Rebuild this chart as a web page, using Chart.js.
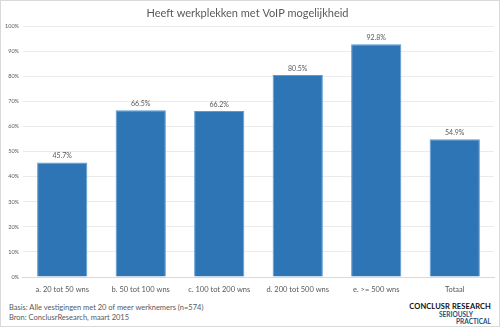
<!DOCTYPE html>
<html>
<head>
<meta charset="utf-8">
<script src="https://cdn.jsdelivr.net/npm/chart.js@4/dist/chart.umd.min.js"></script>
<style>
	html, body { margin: 0; padding: 0; background: #fff; }
	#wrap {
		position: relative;
		width: 500px;
		height: 327px;
		box-sizing: border-box;
		border: 1px solid #d9d9d9;
		font-family: 'Lato', 'DejaVu Sans', sans-serif;
	}
	#chart-box { position: absolute; left: 0; top: 0; width: 498px; height: 293px; }
	.note { position: absolute; left: 8px; font-size: 7.5px; color: #595959; }
	#logo { position: absolute; right: 8px; top: 302px; text-align: right; line-height: 7.5px; }
	#logo .name { font-size: 7.5px; font-weight: bold; color: #111; letter-spacing: 0.1px; }
	#logo .tag { font-size: 6.5px; font-weight: bold; color: #1f4e79; }
</style>
</head>
<body>
<div id="wrap">
	<div id="chart-box"><canvas id="chart"></canvas></div>
	<div class="note" style="top:302px">Basis: Alle vestigingen met 20 of meer werknemers (n=574)</div>
	<div class="note" style="top:312px">Bron: ConclusrResearch, maart 2015</div>
	<div id="logo">
		<div class="name">CONCLUSR RESEARCH</div>
		<div class="tag" style="margin-right:18px">SERIOUSLY</div>
		<div class="tag">PRACTICAL</div>
	</div>
</div>
<script>
	// Chart data
	const categories = ['a. 20 tot 50 wns', 'b. 50 tot 100 wns', 'c. 100 tot 200 wns', 'd. 200 tot 500 wns', 'e. >= 500 wns', 'Totaal'];
	const values = [45.7, 66.5, 66.2, 80.5, 92.8, 54.9];
	const yTicks = [0, 10, 20, 30, 40, 50, 60, 70, 80, 90, 100];

	const textColor = '#595959';
	const barColor = '#2e75b6';

	// Draw value labels above bars
	const valueLabels = {
		id: 'valueLabels',
		afterDatasetsDraw(chart) {
			const ctx = chart.ctx;
			const meta = chart.getDatasetMeta(0);
			ctx.save();
			ctx.font = '7px Lato, sans-serif';
			ctx.fillStyle = textColor;
			ctx.textAlign = 'center';
			ctx.textBaseline = 'bottom';
			meta.data.forEach((bar, i) => {
				ctx.fillText(values[i].toFixed(1) + '%', bar.x, bar.y - 3);
			});
			ctx.restore();
		}
	};

	new Chart(document.getElementById('chart'), {
		type: 'bar',
		data: {
			labels: categories,
			datasets: [{
				data: values,
				backgroundColor: barColor,
				borderColor: '#5b9bd5',
				borderWidth: 1,
				barPercentage: 0.64,
				categoryPercentage: 1
			}]
		},
		options: {
			responsive: true,
			maintainAspectRatio: false,
			animation: false,
			layout: { padding: { left: 0, right: 5, top: 0, bottom: 0 } },
			plugins: {
				legend: { display: false },
				tooltip: { enabled: false },
				title: {
					display: true,
					text: 'Heeft werkplekken met VoIP mogelijkheid',
					color: textColor,
					font: { family: 'Lato, sans-serif', size: 11, weight: 'normal' },
					padding: { top: 6, bottom: 6 }
				}
			},
			scales: {
				x: {
					grid: { display: false },
					border: { color: '#d9d9d9' },
					ticks: {
						color: textColor,
						font: { family: 'Lato, sans-serif', size: 7.5 },
						maxRotation: 0,
						autoSkip: false,
						padding: 0
					}
				},
				y: {
					min: 0,
					max: 100,
					afterBuildTicks(axis) {
						axis.ticks = yTicks.map(v => ({ value: v }));
					},
					grid: { color: '#ebebeb', drawTicks: false },
					border: { display: false },
					ticks: {
						color: textColor,
						font: { family: 'Lato, sans-serif', size: 5.5 },
						padding: 4,
						callback: v => v + '%'
					}
				}
			}
		},
		plugins: [valueLabels]
	});
</script>
</body>
</html>
